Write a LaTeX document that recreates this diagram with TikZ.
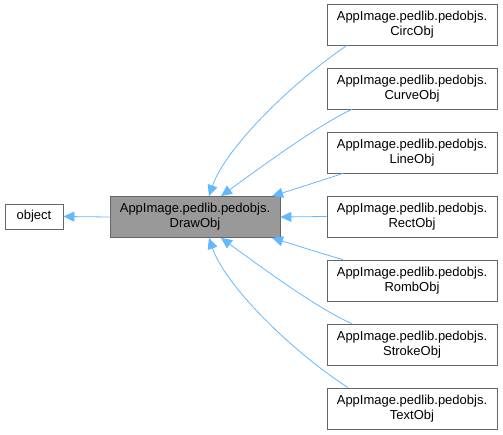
\documentclass[tikz,border=0pt]{standalone}
\usepackage{fontspec}
\setmainfont{Liberation Sans}
\usetikzlibrary{arrows.meta}
\definecolor{edgeblue}{HTML}{63B8FF}
\definecolor{boxborder}{HTML}{666666}
\definecolor{boxgray}{HTML}{999999}
\begin{document}
\begin{tikzpicture}[x=1pt,y=-1pt,
  cls/.style={draw=boxborder, line width=0.8pt, fill=white, inner sep=0pt,
    minimum width=170pt, minimum height=41pt, align=center,
    font=\fontsize{13}{15}\selectfont},
  base/.style={cls, fill=boxgray},
  small/.style={cls, minimum width=58pt, minimum height=25pt},
  inh/.style={draw=edgeblue, line width=0.8pt, -{Triangle[length=11pt,width=10pt]}}
]
\useasboundingbox (0,0) rectangle (503,435);
\node[base] (draw) at (195,217) {AppImage.pedlib.pedobjs.\\DrawObj};
\node[small] (obj) at (34,216.5) {object};
\node[cls] (circ) at (412,24.5) {AppImage.pedlib.pedobjs.\\CircObj};
\node[cls] (curve) at (412,88.5) {AppImage.pedlib.pedobjs.\\CurveObj};
\node[cls] (line) at (412,152.5) {AppImage.pedlib.pedobjs.\\LineObj};
\node[cls] (rect) at (412,216.5) {AppImage.pedlib.pedobjs.\\RectObj};
\node[cls] (romb) at (412,280.5) {AppImage.pedlib.pedobjs.\\RombObj};
\node[cls] (stroke) at (412,344.5) {AppImage.pedlib.pedobjs.\\StrokeObj};
\node[cls] (text) at (412,408.5) {AppImage.pedlib.pedobjs.\\TextObj};
% anchor points
\coordinate (c1) at (circ.south -| 347,0);
\coordinate (c2) at (curve.south -| 352,0);
\coordinate (c3) at (line.south -| 343,0);
\coordinate (c5) at (romb.north -| 343,0);
\coordinate (c6) at (stroke.north -| 352,0);
\coordinate (c7) at (text.north -| 348,0);
\coordinate (t1) at (draw.north -| 209,0);
\coordinate (t2) at (draw.north -| 221,0);
\coordinate (t3) at (draw.north -| 272,0);
\coordinate (t5) at (draw.south -| 272,0);
\coordinate (t6) at (draw.south -| 221,0);
\coordinate (t7) at (draw.south -| 209,0);
\draw[inh] (draw.west) -- (obj.east);
\draw[inh] (c1) .. controls (290,84) and (225,149) .. (t1);
\draw[inh] (c2) .. controls (320,124) and (265,164) .. (t2);
\draw[inh] (c3) .. controls (320,181) and (295,189) .. (t3);
\draw[inh] (rect.west) -- (draw.east);
\draw[inh] (c5) .. controls (320,253) and (295,245) .. (t5);
\draw[inh] (c6) .. controls (320,310) and (265,270) .. (t6);
\draw[inh] (c7) .. controls (290,350) and (225,285) .. (t7);
\end{tikzpicture}
\end{document}
